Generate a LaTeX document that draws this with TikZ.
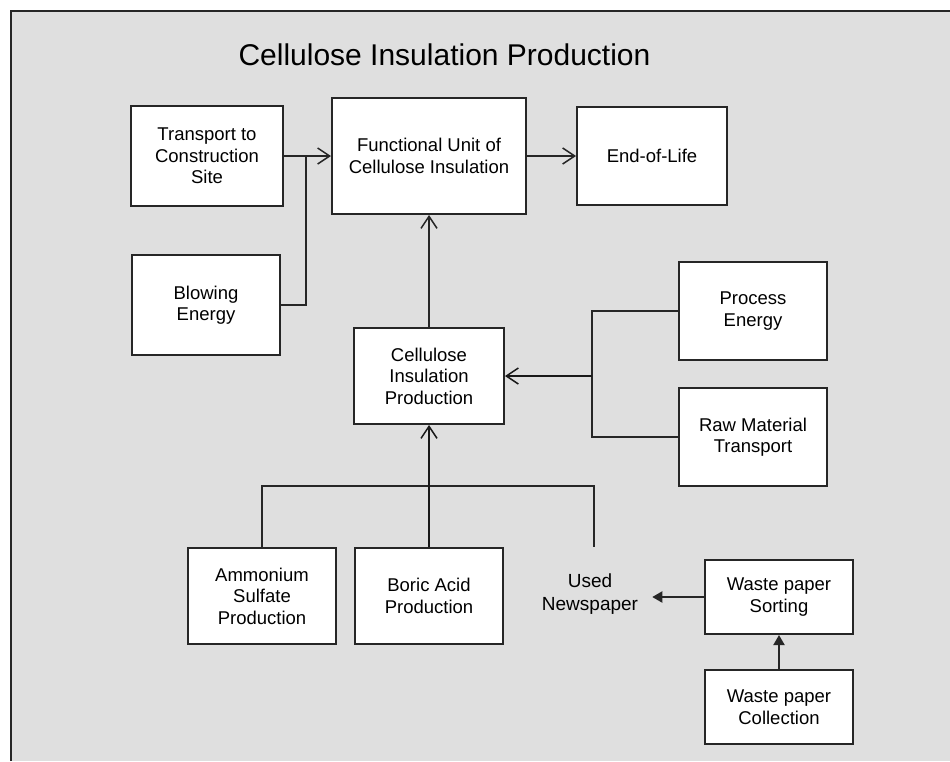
\documentclass[tikz,border=0pt]{standalone}
\usepackage{fontspec}
\setmainfont{Liberation Sans}
\usetikzlibrary{arrows.meta}
\definecolor{bg}{RGB}{223,223,223}
\begin{document}
\begin{tikzpicture}[x=1pt,y=-1pt,
  box/.style={draw=black!85, fill=white, line width=2pt, align=center,
    font=\fontsize{18.5}{21.5}\selectfont, inner sep=0pt},
  conn/.style={draw=black!85, line width=2pt},
  heavyconn/.style={draw=black!90, line width=2.6pt},
  barb/.style={-{Straight Barb[length=12pt,width=16pt,line width=1.5pt]}},
  tri/.style={-{Triangle[length=10pt,width=11pt]}}
]
\useasboundingbox (0,0) rectangle (950,761);
\fill[white] (0,0) rectangle (950,761);
\fill[bg] (11,11) rectangle (950,761);
\draw[line width=2pt, black!85] (11,761) -- (11,11) -- (950,11);

\node[font=\fontsize{30}{36}\selectfont, anchor=base] (title) at (444.5,65) {Cellulose Insulation Production};

\node[box, minimum width=152pt, minimum height=100pt] (trans) at (207,156) {Transport to\\Construction\\Site};
\node[box, minimum width=194pt, minimum height=116pt] (fu) at (429,156) {Functional Unit of\\Cellulose Insulation};
\node[box, minimum width=150pt, minimum height=98pt] (eol) at (652,156) {End-of-Life};
\node[box, minimum width=148pt, minimum height=100pt] (blow) at (206,305) {Blowing\\Energy};
\node[box, minimum width=150pt, minimum height=96pt] (cip) at (429,376) {Cellulose\\Insulation\\Production};
\node[box, minimum width=148pt, minimum height=98pt] (pe) at (753,311) {Process\\Energy};
\node[box, minimum width=148pt, minimum height=98pt] (rmt) at (753,437) {Raw Material\\Transport};
\node[box, minimum width=148pt, minimum height=96pt] (amm) at (262,596) {Ammonium\\Sulfate\\Production};
\node[box, minimum width=148pt, minimum height=96pt] (boric) at (429,596) {Boric Acid\\Production};
\node[align=center, font=\fontsize{19}{23}\selectfont, inner xsep=14pt, inner ysep=0pt] (news) at (590,594) {Used\\Newspaper};
\node[box, minimum width=148pt, minimum height=74pt] (sort) at (779,597) {Waste paper\\Sorting};
\node[box, minimum width=148pt, minimum height=74pt] (coll) at (779,707) {Waste paper\\Collection};

% top row
\coordinate (jt) at (306,156);
\draw[conn, barb] (trans.east) -- (fu.west);
\draw[conn] (blow.east) -| (jt);
\draw[conn, barb] (fu.east) -- (eol.west);
\draw[conn, barb] (cip.north) -- (fu.south);

% right side inputs
\coordinate (jr) at (592,376);
\draw[conn] (pe.west) -| (jr) |- (rmt.west);
\draw[heavyconn, barb] (jr) -- (cip.east);

% bottom inputs
\coordinate (nt) at (594,547);
\coordinate (jb) at (429,486);
\draw[conn] (amm.north) |- (nt |- jb) -- (nt);
\draw[heavyconn, barb] (boric.north) -- (cip.south);

% waste paper chain
\draw[conn, tri] (sort.west) -- (sort.west -| news.east);
\draw[conn, tri] (coll.north) -- (sort.south);
\end{tikzpicture}
\end{document}
